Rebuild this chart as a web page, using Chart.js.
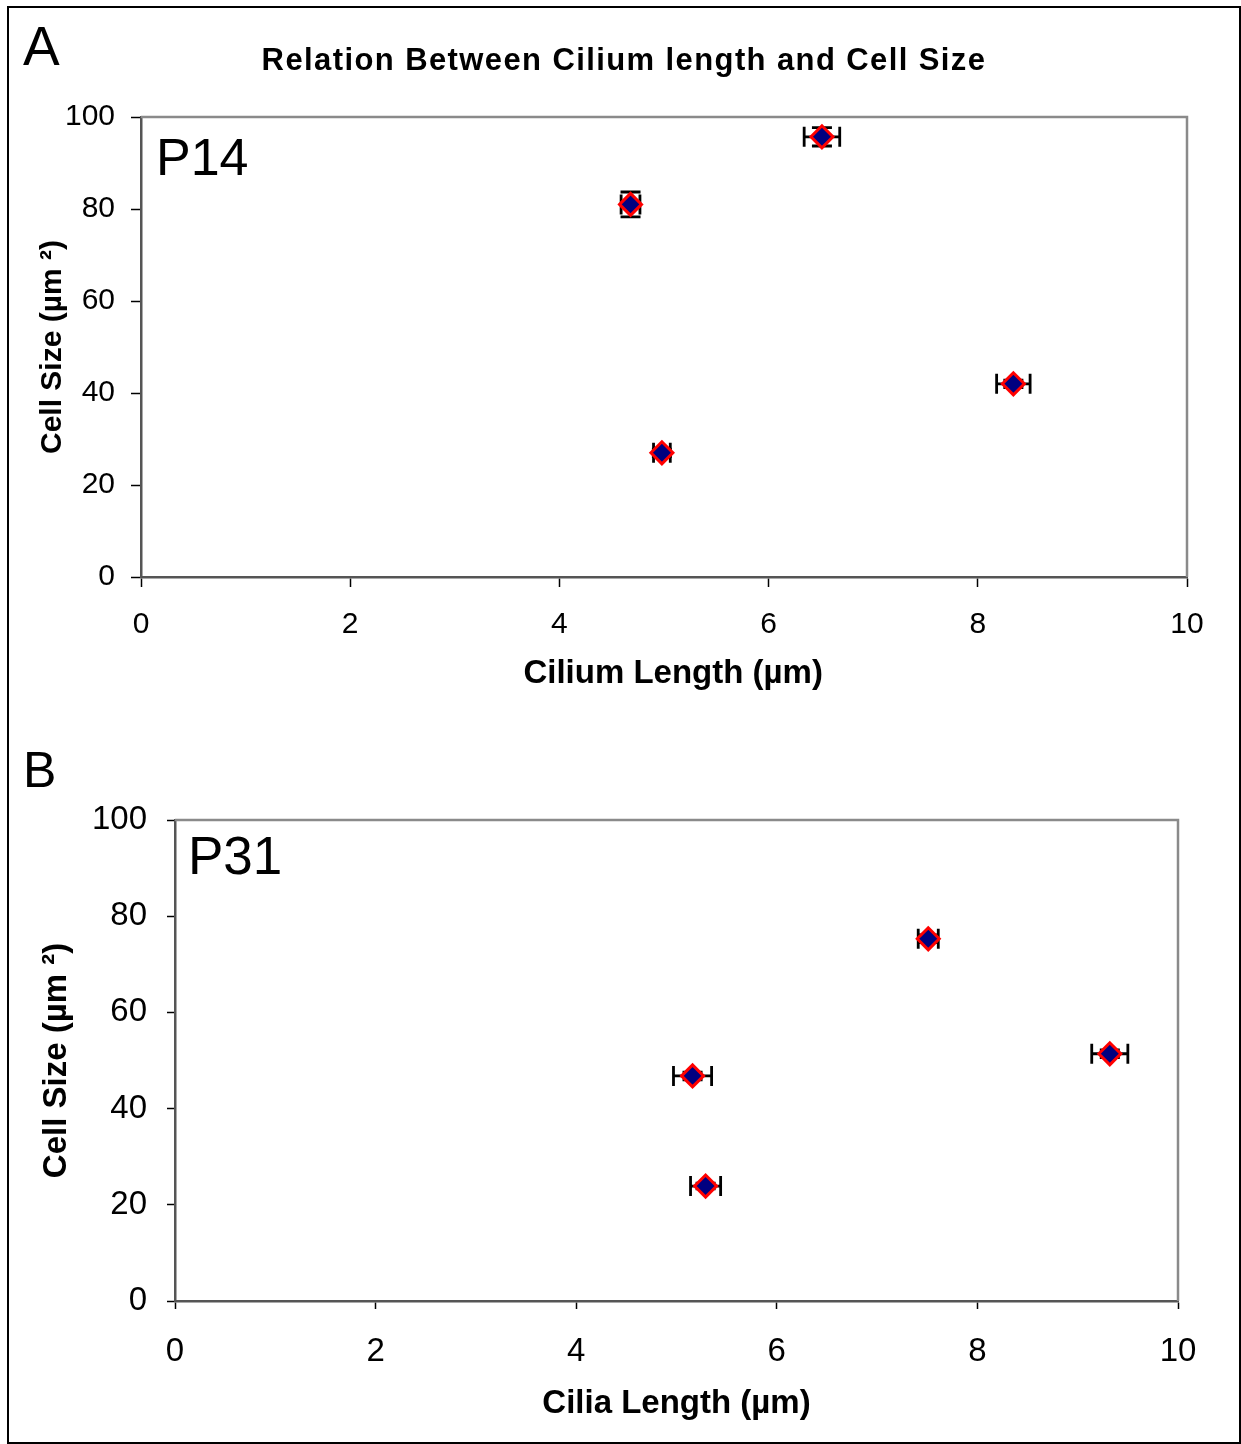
<!DOCTYPE html>
<html>
<head>
<meta charset="utf-8">
<script src="https://cdn.jsdelivr.net/npm/chart.js@4.4.0/dist/chart.umd.min.js"></script>
<style>
  body { margin: 0; background: #fff; }
  #frame { position: absolute; left: 7px; top: 6px; width: 1230px; height: 1434px; border: 2px solid #000; }
  .panel { position: absolute; left: 0; width: 1241px; }
</style>
</head>
<body>
<div id="frame"></div>
<div class="panel" style="top:0;height:720px"><canvas id="chartA"></canvas></div>
<div class="panel" style="top:720px;height:724px"><canvas id="chartB"></canvas></div>
<script>
// P14 (panel A)
const p14Length = [4.68, 6.51, 4.98, 8.34];
const p14Size = [81.0, 95.7, 27.0, 42.0];
const p14LengthErr = [0.09, 0.17, 0.08, 0.16];
const p14SizeErr = [2.7, 2.0, 0.8, 0.8];

// P31 (panel B)
const p31Length = [5.16, 5.29, 7.51, 9.32];
const p31Size = [46.8, 23.9, 75.3, 51.4];
const p31LengthErr = [0.19, 0.15, 0.10, 0.18];
const p31SizeErr = [0.8, 0.6, 0.8, 0.8];

const xRange = [0, 10, 2];   // min, max, step
const yRange = [0, 100, 20];

const FONT = "'Liberation Sans', Arial, sans-serif";

// black x/y error bars under the markers
const errorBars = {
  id: "errorBars",
  beforeDatasetsDraw(chart) {
    const ctx = chart.ctx;
    const xs = chart.scales.x, ys = chart.scales.y;
    const cap = 10;
    ctx.save();
    ctx.strokeStyle = "#000";
    ctx.lineWidth = 2.8;
    chart.data.datasets.forEach(function(ds) {
      ds.data.forEach(function(pt, i) {
        const cx = xs.getPixelForValue(pt.x);
        const cy = ys.getPixelForValue(pt.y);
        const xl = xs.getPixelForValue(pt.x - ds.xErr[i]);
        const xr = xs.getPixelForValue(pt.x + ds.xErr[i]);
        const yt = ys.getPixelForValue(pt.y + ds.yErr[i]);
        const yb = ys.getPixelForValue(pt.y - ds.yErr[i]);
        ctx.beginPath();
        ctx.moveTo(xl, cy); ctx.lineTo(xr, cy);
        ctx.moveTo(xl, cy - cap); ctx.lineTo(xl, cy + cap);
        ctx.moveTo(xr, cy - cap); ctx.lineTo(xr, cy + cap);
        ctx.moveTo(cx, yt); ctx.lineTo(cx, yb);
        ctx.moveTo(cx - cap, yt); ctx.lineTo(cx + cap, yt);
        ctx.moveTo(cx - cap, yb); ctx.lineTo(cx + cap, yb);
        ctx.stroke();
      });
    });
    // grey top and right edges of the plot box
    const a = chart.chartArea;
    ctx.strokeStyle = "#8a8a8a";
    ctx.lineWidth = 2.5;
    ctx.beginPath();
    ctx.moveTo(a.left, a.top); ctx.lineTo(a.right, a.top); ctx.lineTo(a.right, a.bottom);
    ctx.stroke();
    ctx.restore();
  }
};

// panel letter, chart title and age label
const panelText = {
  id: "panelText",
  afterDraw(chart, args, opts) {
    const ctx = chart.ctx;
    ctx.save();
    ctx.fillStyle = "#000";
    ctx.textBaseline = "alphabetic";
    ctx.textAlign = "left";
    ctx.font = opts.letterSize + "px " + FONT;
    ctx.fillText(opts.letter, opts.letterX, opts.letterY);
    ctx.font = opts.tagSize + "px " + FONT;
    ctx.fillText(opts.tag, opts.tagX, opts.tagY);
    if (opts.title) {
      ctx.textAlign = "center";
      ctx.font = "bold 31px " + FONT;
      ctx.letterSpacing = "1.4px";
      ctx.fillText(opts.title, opts.titleX, opts.titleY);
    }
    ctx.restore();
  }
};

function makeChart(id, xVals, yVals, xErr, yErr, cfg) {
  const points = xVals.map(function(x, i) { return {x: x, y: yVals[i]}; });
  return new Chart(document.getElementById(id), {
    type: "scatter",
    data: {
      datasets: [{
        data: points,
        xErr: xErr,
        yErr: yErr,
        pointStyle: "rectRot",
        pointRadius: 11,
        pointHoverRadius: 11,
        backgroundColor: "#000080",
        borderColor: "#ff0000",
        borderWidth: 3
      }]
    },
    options: {
      responsive: true,
      maintainAspectRatio: false,
      animation: false,
      events: [],
      layout: { padding: { left: 0, right: cfg.padRight, top: cfg.padTop, bottom: 0 } },
      plugins: {
        legend: { display: false },
        tooltip: { enabled: false },
        panelText: cfg.text
      },
      scales: {
        x: {
          type: "linear",
          min: xRange[0], max: xRange[1],
          ticks: { stepSize: xRange[2], color: "#000", padding: cfg.xTickPad, font: { family: FONT, size: cfg.tickSize } },
          grid: { drawOnChartArea: false, tickLength: cfg.tickLen, tickColor: "#000", tickWidth: 1.5 },
          border: { color: "#555", width: 2.5 },
          title: { display: true, text: cfg.xTitle, color: "#000", padding: { top: 0, bottom: cfg.xTitlePad }, font: { family: FONT, size: cfg.xTitleSize, weight: "bold" } },
          afterFit: function(scale) { scale.height = cfg.xAxisHeight; }
        },
        y: {
          type: "linear",
          min: yRange[0], max: yRange[1],
          ticks: { stepSize: yRange[2], color: "#000", padding: cfg.yTickPad, font: { family: FONT, size: cfg.tickSize } },
          grid: { drawOnChartArea: false, tickLength: cfg.tickLen, tickColor: "#000", tickWidth: 1.5 },
          border: { color: "#555", width: 2.5 },
          title: { display: true, text: "Cell Size (µm ²)", color: "#000", padding: { top: cfg.yTitlePad, bottom: 0 }, font: { family: FONT, size: cfg.yTitleSize, weight: "bold" } },
          afterFit: function(scale) { scale.width = cfg.yAxisWidth; }
        }
      }
    },
    plugins: [errorBars, panelText]
  });
}

makeChart("chartA", p14Length, p14Size, p14LengthErr, p14SizeErr, {
  padRight: 54, padTop: 117, xAxisHeight: 143, yAxisWidth: 141,
  tickSize: 30, tickLen: 10, xTickPad: 20, yTickPad: 16,
  xTitle: "\u00a0\u00a0Cilium Length (µm)", xTitleSize: 33, xTitlePad: 26,
  yTitleSize: 30, yTitlePad: 35,
  text: { letter: "A", letterSize: 55, letterX: 23, letterY: 65,
          tag: "P14", tagSize: 52, tagX: 156, tagY: 175,
          title: "Relation Between Cilium length and Cell Size", titleX: 624, titleY: 70 }
});

makeChart("chartB", p31Length, p31Size, p31LengthErr, p31SizeErr, {
  padRight: 63, padTop: 100, xAxisHeight: 143, yAxisWidth: 175,
  tickSize: 33, tickLen: 8, xTickPad: 23, yTickPad: 20,
  xTitle: "Cilia Length (µm)", xTitleSize: 33, xTitlePad: 20,
  yTitleSize: 33, yTitlePad: 37,
  text: { letter: "B", letterSize: 50, letterX: 23, letterY: 67,
          tag: "P31", tagSize: 53, tagX: 188, tagY: 154 }
});
</script>
</body>
</html>
